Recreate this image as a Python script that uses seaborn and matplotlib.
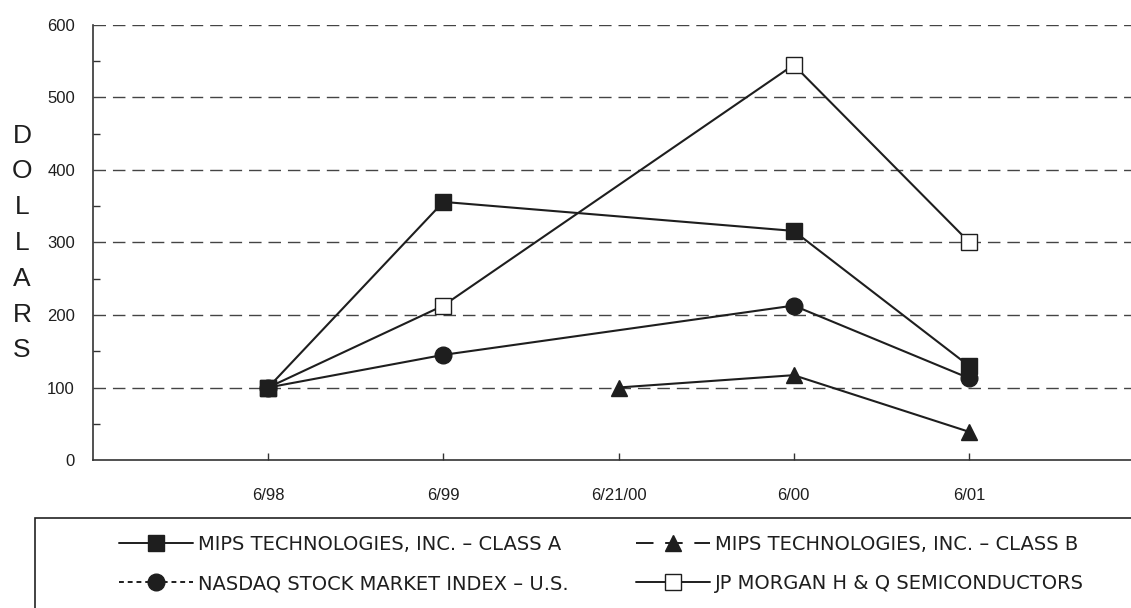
import matplotlib
matplotlib.use("Agg")
import matplotlib.pyplot as plt
import seaborn as sns
import pandas as pd
from matplotlib.lines import Line2D
from matplotlib.patches import Rectangle

# ---- data ----
x_labels = ["6/98", "6/99", "6/21/00", "6/00", "6/01"]
class_a_x = ["6/98", "6/99", "6/00", "6/01"]
class_a = [100, 356, 316, 130]
class_b_x = ["6/21/00", "6/00", "6/01"]
class_b = [100, 117, 39]
nasdaq_x = ["6/98", "6/99", "6/00", "6/01"]
nasdaq = [100, 145, 213, 113]
jpm_x = ["6/98", "6/99", "6/00", "6/01"]
jpm = [100, 213, 545, 301]
y_ticks = [0, 100, 200, 300, 400, 500, 600]

sns.set_theme(style="white")
plt.rcParams['font.family'] = ['Liberation Sans', 'DejaVu Sans']

fig = plt.figure(figsize=(11.31, 6.08), dpi=100)
ax = fig.add_axes([93/1131, (608-460)/608, 1 - 93/1131, (460-25)/608])

pos = {lab: i for i, lab in enumerate(x_labels)}
ink = "#1e1e1e"

def draw(xs, ys, marker, mfc, ms):
    df = pd.DataFrame({"x": [pos[v] for v in xs], "y": ys})
    sns.lineplot(data=df, x="x", y="y", ax=ax, color=ink, linewidth=1.5,
                 marker=marker, markersize=ms, markerfacecolor=mfc,
                 markeredgecolor=ink, markeredgewidth=1.0, zorder=3)

draw(jpm_x, jpm, "s", "white", 12)
draw(nasdaq_x, nasdaq, "o", ink, 12)
draw(class_b_x, class_b, "^", ink, 12)
draw(class_a_x, class_a, "s", ink, 12)

ax.set_xlim(-1, (1131 - 269) / 175)
ax.set_ylim(0, 600)
ax.set_xlabel("")
ax.set_ylabel("")

for yv in y_ticks[1:]:
    ax.axhline(yv, color="#444444", linewidth=1.0, linestyle=(0, (9, 5)), zorder=1)

ax.set_yticks(y_ticks)
ax.set_yticks([50, 150, 250, 350, 450, 550], minor=True)
ax.set_xticks(range(len(x_labels)))
ax.set_xticklabels(x_labels)
ax.tick_params(axis="y", which="major", length=0, labelsize=12, pad=13)
ax.tick_params(axis="y", which="minor", length=5, direction="in", width=1, color="#333333", left=True)
ax.tick_params(axis="x", which="major", length=5, direction="in", width=1, color="#333333",
               labelsize=12, pad=20, bottom=True)
for lab in ax.get_xticklabels() + ax.get_yticklabels():
    lab.set_color("#1e1e1e")

for s in ["top", "right"]:
    ax.spines[s].set_visible(False)
for s in ["left", "bottom"]:
    ax.spines[s].set_color("#333333")
    ax.spines[s].set_linewidth(1.2)

# vertical y label
fig.text(22/1131, 1 - 243/608, "\n".join("DOLLARS"), ha="center", va="center",
         fontsize=19, color="#1e1e1e", linespacing=1.62)

# legend box (left and top edges visible)
box = Rectangle((35/1131, -0.1), 1.2, (608-518)/608 + 0.1, transform=fig.transFigure,
                fill=False, edgecolor="#222222", linewidth=1.2, clip_on=False)
fig.patches.append(box)

handles = [
    Line2D([], [], color=ink, lw=1.4, marker="s", ms=12, mfc=ink, mec=ink),
    Line2D([], [], color=ink, lw=1.4, ls=(0, (2.5, 2)), marker="o", ms=12, mfc=ink, mec=ink),
    Line2D([], [], color=ink, lw=1.4, ls=(0, (9, 6)), marker="^", ms=12, mfc=ink, mec=ink),
    Line2D([], [], color=ink, lw=1.4, marker="s", ms=12, mfc="white", mec=ink),
]
labels = [
    "MIPS TECHNOLOGIES, INC. – CLASS A",
    "NASDAQ STOCK MARKET INDEX – U.S.",
    "MIPS TECHNOLOGIES, INC. – CLASS B",
    "JP MORGAN H & Q SEMICONDUCTORS",
]
leg = fig.legend(handles, labels, ncol=2, loc="upper left",
                 bbox_to_anchor=(111/1131, 1 - 527/608), frameon=False,
                 prop={"family": "DejaVu Sans", "size": 14},
                 handlelength=3.8, handletextpad=0.25,
                 columnspacing=3.5, labelspacing=1.05, borderaxespad=0)
for t in leg.get_texts():
    t.set_color("#1e1e1e")

fig.savefig("out.png", dpi=100)
